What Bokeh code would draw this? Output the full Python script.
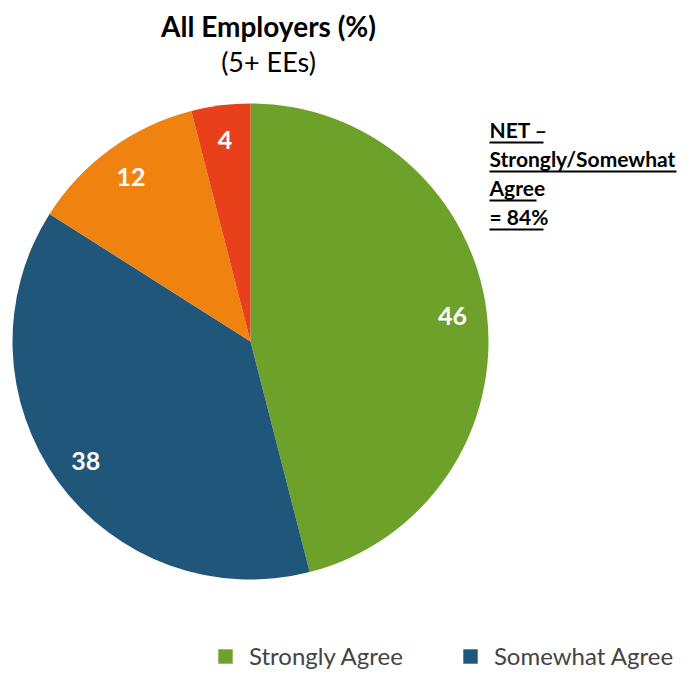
import numpy as np
from bokeh.plotting import figure
from bokeh.models import ColumnDataSource, Label, Legend, LegendItem
from bokeh.embed import file_html
from bokeh.resources import INLINE

# ---- data ----
categories = ["Strongly Agree", "Somewhat Agree", "Somewhat Disagree", "Strongly Disagree"]
values = [46, 38, 12, 4]
colors = ["#6EA12A", "#1F5679", "#F0820F", "#E8401A"]
legend_shown = ["Strongly Agree", "Somewhat Agree"]
title_main = "All Employers (%)"
title_sub = "(5+ EEs)"
net_lines = ["NET \u2013", "Strongly/Somewhat", "Agree", "= 84%"]

W, H = 682, 670
FONT = "Lato"

p = figure(width=W, height=H, x_range=(0, W), y_range=(0, H),
           output_backend="svg", toolbar_location=None, min_border=0)
p.axis.visible = False
p.grid.visible = False
p.outline_line_color = None
p.background_fill_color = "white"

# pie geometry (pixel coordinates, y up)
cx, cy, R = 250, H - 341, 238

vals = np.array(values, dtype=float)
frac = vals / vals.sum()
cum = np.concatenate([[0], np.cumsum(frac)])
start = np.pi / 2 - cum[1:] * 2 * np.pi
end = np.pi / 2 - cum[:-1] * 2 * np.pi
mid = (start + end) / 2
lr = 0.855 * R

src = ColumnDataSource(dict(
    cat=categories, val=values, color=colors,
    start=start, end=end,
    lx=cx + lr * np.cos(mid), ly=cy + lr * np.sin(mid),
    lab=[str(v) for v in values],
))

w = p.wedge(x=cx, y=cy, radius=R, start_angle="start", end_angle="end",
            fill_color="color", line_color=None, source=src)

p.text(x="lx", y="ly", text="lab", source=src, text_color="white",
       text_font_size="25px", text_font_style="bold", text_align="center",
       text_baseline="middle", text_font={"value": FONT})

# titles
p.add_layout(Label(x=268, y=H - 25, text=title_main, text_font=FONT,
                   text_font_size="28px", text_font_style="bold",
                   text_align="center", text_baseline="alphabetic", text_color="black"))
p.add_layout(Label(x=268, y=H - 61, text=title_sub, text_font=FONT,
                   text_font_size="27px", text_align="center",
                   text_baseline="alphabetic", text_color="black"))

# NET annotation with underlines
net_x = 489
base_y = [H - 129, H - 158, H - 187, H - 216]
ul_w = [54, 187, 47, 54]
for t, by, uw in zip(net_lines, base_y, ul_w):
    p.add_layout(Label(x=net_x, y=by, text=t, text_font=FONT,
                       text_font_size="21px", text_font_style="bold",
                       text_align="left", text_baseline="middle", text_color="black"))
    p.segment(x0=net_x, y0=by - 13, x1=net_x + uw, y1=by - 13,
              line_color="black", line_width=2)

# legend (only the entries visible in the reference)
items = [LegendItem(label=categories[i], renderers=[w], index=i)
         for i in range(len(categories)) if categories[i] in legend_shown]
legend = Legend(items=items, orientation="horizontal", location=(216, 0),
                label_text_font=FONT, label_text_font_size="24px",
                glyph_width=18, glyph_height=18, label_standoff=15,
                spacing=58, padding=0, margin=0, label_height=18,
                border_line_color=None, background_fill_alpha=0)
p.add_layout(legend)

open("out.html", "w").write(file_html(p, INLINE))
